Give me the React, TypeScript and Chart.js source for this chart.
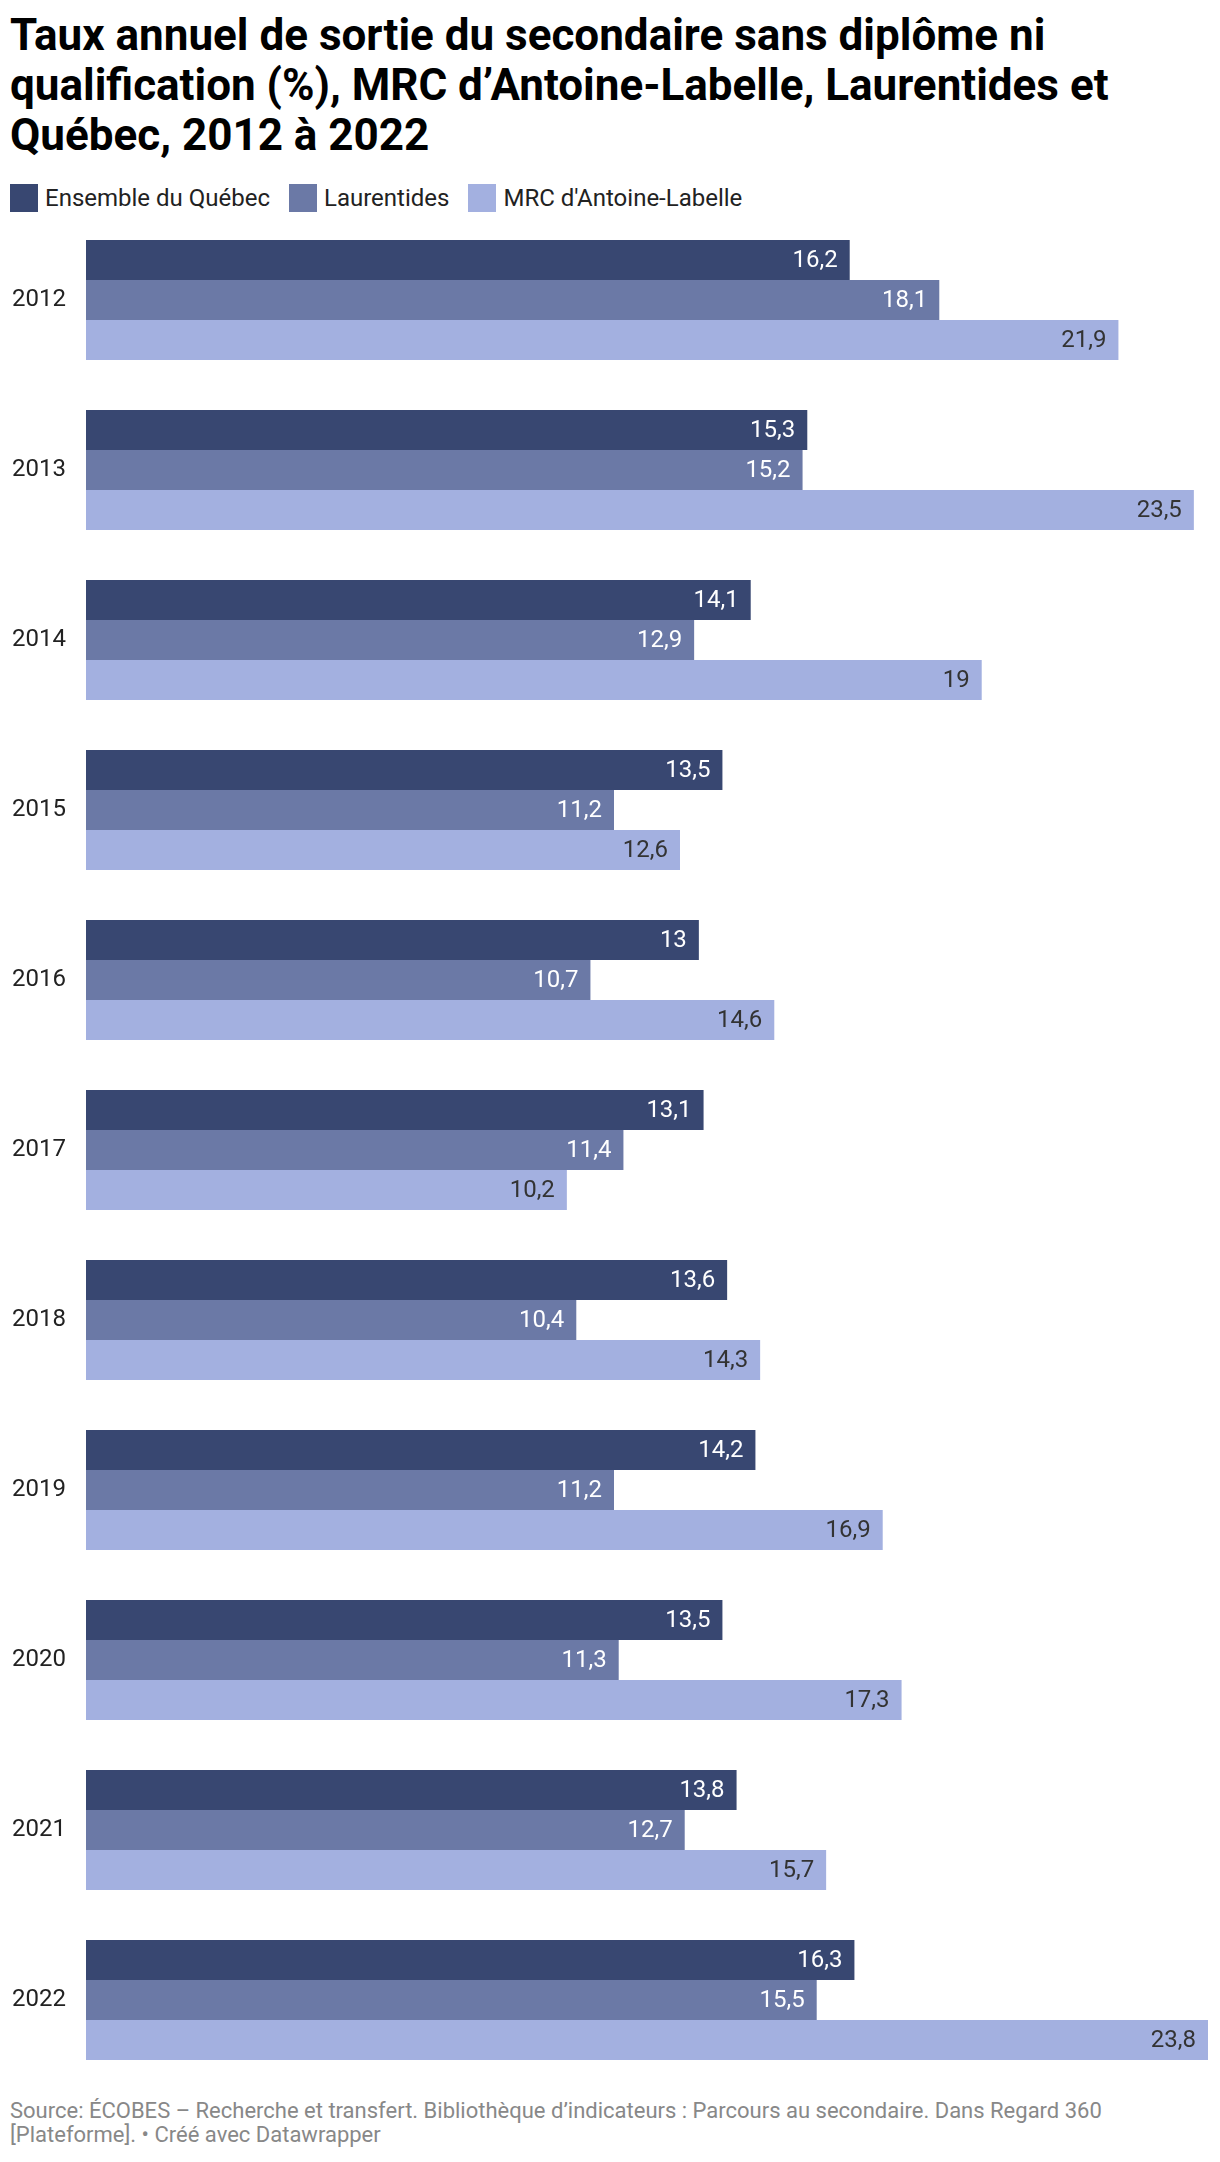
import React, { useEffect, useRef } from "react";
import { Chart, registerables } from "chart.js";

Chart.register(...registerables);

const years = ["2012", "2013", "2014", "2015", "2016", "2017", "2018", "2019", "2020", "2021", "2022"];
const seriesNames = ["Ensemble du Québec", "Laurentides", "MRC d'Antoine-Labelle"];
const quebec = [16.2, 15.3, 14.1, 13.5, 13, 13.1, 13.6, 14.2, 13.5, 13.8, 16.3];
const laurentides = [18.1, 15.2, 12.9, 11.2, 10.7, 11.4, 10.4, 11.2, 11.3, 12.7, 15.5];
const antoineLabelle = [21.9, 23.5, 19, 12.6, 14.6, 10.2, 14.3, 16.9, 17.3, 15.7, 23.8];
const seriesColors = ["#384771", "#6b79a6", "#a3b0e0"];
const labelColors = ["#ffffff", "#ffffff", "#333333"];
const titleLines = [
  "Taux annuel de sortie du secondaire sans diplôme ni",
  "qualification (%), MRC d’Antoine-Labelle, Laurentides et",
  "Québec, 2012 à 2022",
];
const footerLines = [
  "Source: ÉCOBES – Recherche et transfert. Bibliothèque d’indicateurs : Parcours au secondaire. Dans Regard 360",
  "[Plateforme]. • Créé avec Datawrapper",
];

const FONT = "Roboto, 'Noto Sans', sans-serif";

const valueLabels = {
  id: "valueLabels",
  afterDatasetsDraw(chart: any) {
    const ctx = chart.ctx;
    ctx.save();
    ctx.font = `24px ${FONT}`;
    ctx.textAlign = "right";
    ctx.textBaseline = "middle";
    chart.data.datasets.forEach((ds: any, di: number) => {
      const meta = chart.getDatasetMeta(di);
      meta.data.forEach((bar: any, i: number) => {
        const v = ds.data[i];
        ctx.fillStyle = labelColors[di];
        ctx.fillText(String(v).replace(".", ","), bar.x - 12, bar.y + 1);
      });
    });
    ctx.restore();
  },
};

export default function App() {
  const canvasRef = useRef<HTMLCanvasElement | null>(null);

  useEffect(() => {
    let chart: Chart | null = null;
    let cancelled = false;
    const make = () => {
      if (cancelled || !canvasRef.current) return;
      chart = new Chart(canvasRef.current, {
        type: "bar",
        data: {
          labels: years,
          datasets: [quebec, laurentides, antoineLabelle].map((d, i) => ({
            label: seriesNames[i],
            data: d,
            backgroundColor: seriesColors[i],
            borderWidth: 0,
            categoryPercentage: 120 / 170,
            barPercentage: 1,
          })),
        },
        options: {
          indexAxis: "y",
          responsive: false,
          maintainAspectRatio: false,
          animation: false,
          layout: { padding: { left: 0, right: 4, top: 0, bottom: 0 } },
          scales: {
            x: { display: false, min: 0, max: 23.8 },
            y: {
              grid: { display: false, drawTicks: false },
              border: { display: false },
              ticks: { color: "#222222", font: { family: FONT, size: 24 }, padding: 20 },
              afterFit: (s: any) => {
                s.width = 78;
                s.paddingTop = 0;
                s.paddingBottom = 0;
              },
            },
          },
          plugins: { legend: { display: false }, tooltip: { enabled: false } },
        } as any,
        plugins: [valueLabels],
      });
    };
    const fontsApi: any = (document as any).fonts;
    if (fontsApi && fontsApi.load) {
      Promise.all([fontsApi.load(`24px Roboto`), fontsApi.load(`bold 44px Roboto`)])
        .catch(() => {})
        .then(make);
    } else {
      make();
    }
    return () => {
      cancelled = true;
      if (chart) chart.destroy();
    };
  }, []);

  return (
    <div style={{ position: "relative", width: 1204, height: 2154, fontFamily: FONT }}>
      <div
        style={{
          position: "absolute",
          left: 2,
          top: 2,
          fontSize: 44,
          lineHeight: "50px",
          fontWeight: 700,
          color: "#000",
          whiteSpace: "nowrap",
        }}
      >
        {titleLines.map((l, i) => (
          <div key={i}>{l}</div>
        ))}
      </div>
      <div
        style={{
          position: "absolute",
          left: 2,
          top: 176,
          height: 28,
          display: "flex",
          alignItems: "center",
          gap: 19,
          fontSize: 24,
          color: "#222",
          whiteSpace: "nowrap",
        }}
      >
        {seriesNames.map((n, i) => (
          <div key={i} style={{ display: "flex", alignItems: "center" }}>
            <span style={{ display: "inline-block", width: 28, height: 28, background: seriesColors[i], marginRight: 7 }} />
            <span>{n}</span>
          </div>
        ))}
      </div>
      <canvas
        ref={canvasRef}
        width={1204}
        height={1870}
        style={{ position: "absolute", left: 0, top: 207, width: 1204, height: 1870 }}
      />
      <div
        style={{
          position: "absolute",
          left: 2,
          top: 2091,
          fontSize: 22,
          lineHeight: "24px",
          color: "#888",
          whiteSpace: "nowrap",
        }}
      >
        {footerLines.map((l, i) => (
          <div key={i}>{l}</div>
        ))}
      </div>
    </div>
  );
}
